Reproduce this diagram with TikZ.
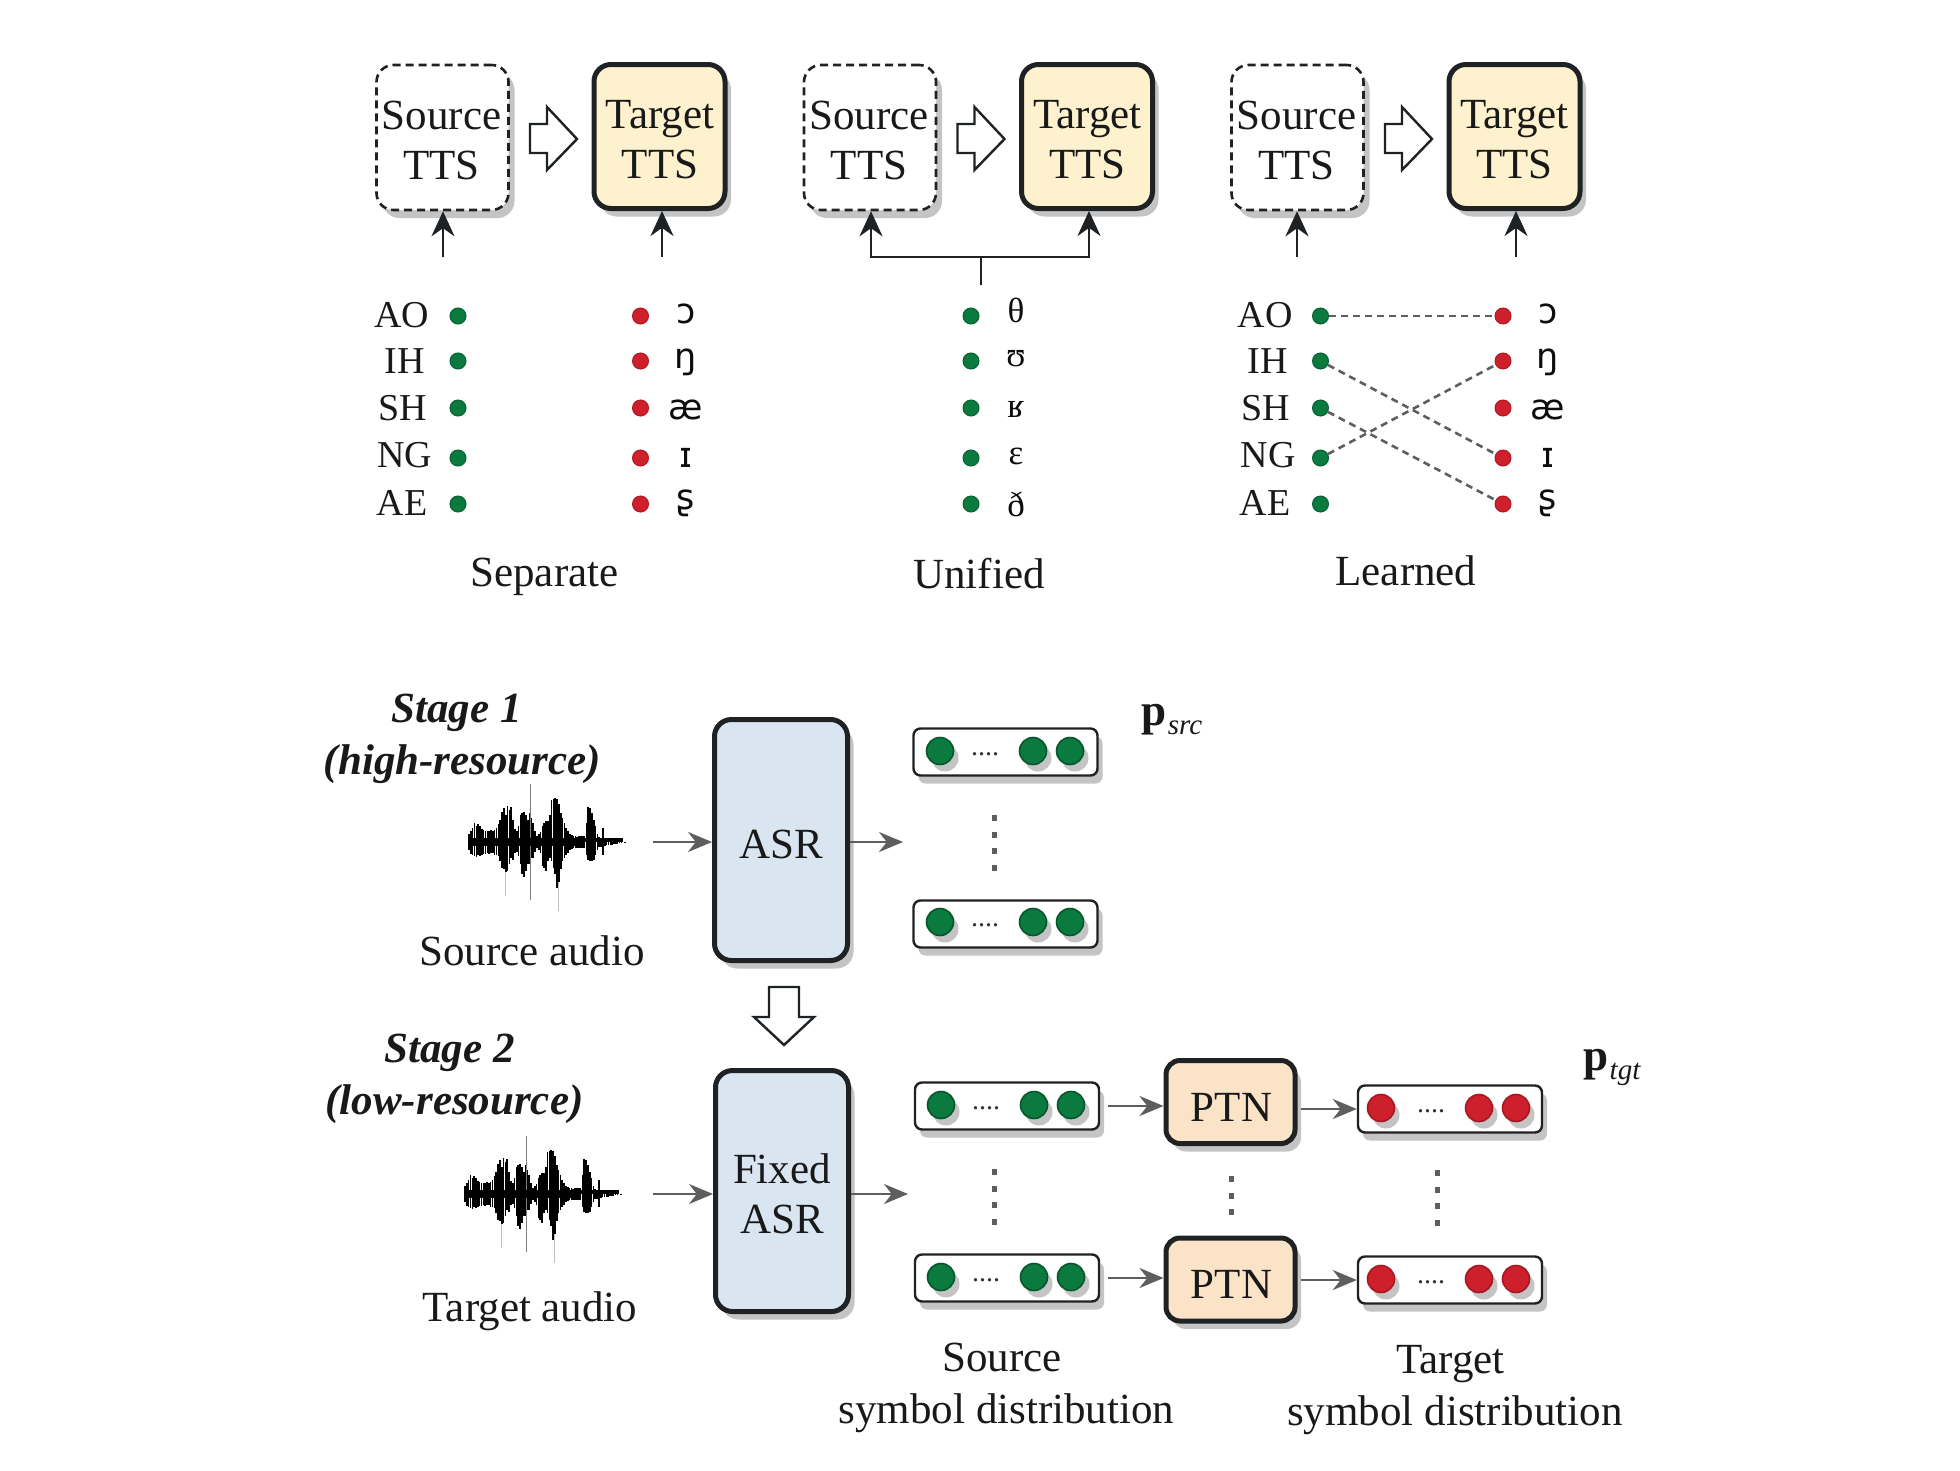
\documentclass[tikz,border=0pt]{standalone}
\usepackage{fontspec}
\setmainfont{Liberation Serif}
\newfontfamily\ipafont{DejaVu Sans}
\usetikzlibrary{arrows.meta,shadows,calc}
\definecolor{shgray}{HTML}{C4C4C4}
\definecolor{dgreen}{HTML}{0A7A3E}
\definecolor{dred}{HTML}{CE1F2C}
\definecolor{yfill}{HTML}{FDF2CD}
\definecolor{bfill}{HTML}{D9E5F0}
\definecolor{ofill}{HTML}{FBE3C8}
\definecolor{arrgray}{HTML}{5E5E5E}
\definecolor{boxline}{HTML}{1E2224}
\newcommand{\fs}[1]{\fontsize{#1}{50}\selectfont}
\tikzset{
  x=1pt,y=-1pt,
  txt/.style={font=\fs{43},align=center,inner sep=0pt,text=black!90},
  bigshadow/.style={drop shadow={shadow xshift=6pt,shadow yshift=-8pt,fill=shgray,opacity=1}},
  srcbox/.style={txt,rounded corners=17pt,draw=boxline,line width=2.6pt,dash pattern=on 8pt off 5pt,fill=white,minimum width=132pt,minimum height=145pt,bigshadow},
  tgtbox/.style={txt,rounded corners=17pt,draw=boxline,line width=5pt,fill=yfill,minimum width=131pt,minimum height=144pt,bigshadow},
  asrbox/.style={txt,rounded corners=17pt,draw=boxline,line width=5pt,fill=bfill,minimum width=133pt,minimum height=241pt,bigshadow},
  ptnbox/.style={txt,rounded corners=14pt,draw=boxline,line width=5pt,fill=ofill,minimum width=129pt,minimum height=83pt,bigshadow},
  barbox/.style={rounded corners=7pt,draw=boxline,line width=2.4pt,fill=white,minimum width=184pt,minimum height=47pt,inner sep=0pt,drop shadow={shadow xshift=5pt,shadow yshift=-8pt,fill=shgray,opacity=1}},
  gdot/.style={circle,inner sep=0pt,minimum size=16pt,fill=dgreen,draw=dgreen!80!black,line width=1pt},
  rdot/.style={circle,inner sep=0pt,minimum size=16pt,fill=dred,draw=dred!85!black,line width=1pt},
  gbig/.style={circle,inner sep=0pt,minimum size=27pt,fill=dgreen,draw=dgreen!70!black,line width=1.6pt,drop shadow={shadow xshift=5pt,shadow yshift=-7pt,fill=shgray,opacity=1}},
  rbig/.style={circle,inner sep=0pt,minimum size=27pt,fill=dred,draw=dred!80!black,line width=1.6pt,drop shadow={shadow xshift=5pt,shadow yshift=-7pt,fill=shgray,opacity=1}},
  plabel/.style={font=\fs{38},inner sep=0pt,text=black!90},
  ipa/.style={font=\ipafont\fs{35},inner sep=0pt,text=black!95},
  ipas/.style={font=\fs{35},inner sep=0pt,text=black!95},
  dotstxt/.style={font=\fs{28},inner sep=0pt,text=black!80},
  uparrow/.style={draw=boxline,line width=2.6pt,-{Stealth[length=25pt,width=23pt]}},
  plainline/.style={draw=boxline,line width=2.6pt},
  garrow/.style={draw=arrgray,line width=2.7pt,-{Stealth[length=24pt,width=20pt]}},
  mapline/.style={draw=arrgray,line width=2.6pt,dash pattern=on 7pt off 5pt},
  vdots/.style={draw=arrgray,line width=5pt,dash pattern=on 6pt off 10.7pt},
  blockarr/.style={draw=boxline,line width=2.4pt,fill=white,line join=miter},
}
\newcommand{\wave}[2]{%
\begin{scope}[shift={(#1,#2)},xscale=.367,yscale=.32]
\draw[black!25,line width=1pt] (245,0) -- (245,215);
\draw[black!25,line width=1pt] (100,0) -- (100,170);
\draw[black!50,line width=1.2pt] (167,-180) -- (167,180);
\foreach \i/\u/\d in {0/25/25,5/35/38,10/45/40,15/60/45,20/50/48,25/55/42,30/50/45,35/42/42,40/38/38,45/35/38,50/33/35,55/35/38,60/38/35,65/33/35,70/38/40,75/45/40,80/55/45,85/70/60,90/95/80,95/105/85,100/85/95,105/112/90,110/100/70,115/110/50,120/70/55,125/40/35,130/35/30,135/50/45,140/85/70,145/90/100,150/95/110,155/85/90,160/70/70,165/90/70,170/75/50,175/60/50,180/35/30,185/20/20,190/25/25,195/30/35,200/50/75,205/60/80,210/65/90,215/65/60,220/85/50,225/130/60,230/135/80,235/138/100,240/135/145,245/120/125,250/90/85,255/75/60,260/60/50,265/45/40,270/35/35,275/25/25,280/22/22,285/20/20,290/18/18,295/15/18,300/18/18,305/20/18,310/20/20,315/18/20,320/60/40,325/110/55,330/105/60,335/90/60,340/70/55,345/50/40,350/25/25,355/15/15,360/12/15,365/45/40,370/12/12,375/10/10,380/10/10,385/10/10,390/8/8,395/7/7,400/6/6,405/5/5,410/4/4,415/3/3,425/1.5/1.5}
  \draw[black,line width=1.6pt] (\i,-\u) -- (\i,\d);
\fill[black] (0,-14) rectangle (420,0);
\fill[black] (0,0) rectangle (300,14);
\end{scope}}
\newcommand{\rowdots}[3]{% name, x, style
\foreach \n/\yy in {1/316,2/361,3/408,4/458,5/504}
  \node[#3] (#1\n) at (#2,\yy) {};}
\begin{document}
\begin{tikzpicture}
\useasboundingbox (0,0) rectangle (1960,1470);
\fill[white] (0,0) rectangle (1960,1470);
% top boxes
\node[srcbox] (s1) at (442.5,137.5) {};
\node[txt] (s1t) at (441.5,140) {Source\\TTS};
\node[tgtbox] (t1) at (659.5,136.5) {};
\node[txt] (t1t) at (660,140) {Target\\TTS};
\node[srcbox] (s2) at (870,137.5) {};
\node[txt] (s2t) at (869,140) {Source\\TTS};
\node[tgtbox] (t2) at (1087,136.5) {};
\node[txt] (t2t) at (1087.5,140) {Target\\TTS};
\node[srcbox] (s3) at (1297.5,137.5) {};
\node[txt] (s3t) at (1296.5,140) {Source\\TTS};
\node[tgtbox] (t3) at (1514.5,136.5) {};
\node[txt] (t3t) at (1514.5,140) {Target\\TTS};
% block arrows
\foreach \dx in {0,427.5,855}
  \draw[blockarr,shift={(\dx,0)}] (530,124) -- (547,124) -- (547,107) -- (577,139) -- (547,170) -- (547,153) -- (530,153) -- cycle;
\draw[blockarr] (769,987) -- (799,987) -- (799,1017) -- (814,1017) -- (784,1045) -- (754,1017) -- (769,1017) -- cycle;
% upward connectors
\coordinate (a1) at (443,257);
\coordinate (a2) at (662,257);
\coordinate (a3) at (1297,257);
\coordinate (a4) at (1516,257);
\draw[uparrow] (a1) -- (a1 |- s1.south);
\draw[uparrow] (a2) -- (a2 |- t1.south);
\draw[uparrow] (a3) -- (a3 |- s3.south);
\draw[uparrow] (a4) -- (a4 |- t3.south);
\coordinate (uj) at (981,257);
\coordinate (us) at (981,285);
\coordinate (ul) at (871,257);
\coordinate (ur) at (1089,257);
\draw[plainline] (us) -- (uj);
\draw[uparrow] (uj) -- (ul) -- (ul |- s2.south);
\draw[uparrow] (uj) -- (ur) -- (ur |- t2.south);
% phoneme columns
\rowdots{ag}{458}{gdot}
\rowdots{ar}{640.5}{rdot}
\rowdots{ug}{971}{gdot}
\rowdots{lg}{1320.5}{gdot}
\rowdots{lr}{1503}{rdot}
\foreach \ox/\pre in {0/a,863/l}{
  \node[plabel] (\pre l1) at (402+\ox,315) {AO};
  \node[plabel] (\pre l2) at (405+\ox,361) {IH};
  \node[plabel] (\pre l3) at (403+\ox,408) {SH};
  \node[plabel] (\pre l4) at (405+\ox,455) {NG};
  \node[plabel] (\pre l5) at (402+\ox,503) {AE};
}
\foreach \ox/\pre in {0/a,862/l}{
  \node[ipa] (\pre s1) at (686+\ox,314) {ɔ};
  \node[ipa] (\pre s2) at (686+\ox,362) {ŋ};
  \node[ipa] (\pre s3) at (686+\ox,410) {æ};
  \node[ipa] (\pre s4) at (686+\ox,458) {ɪ};
  \node[ipa] (\pre s5) at (686+\ox,503) {ʂ};
}
\node[ipas] (us1) at (1016,310) {θ};
\node[ipas] (us2) at (1016,359) {ʊ};
\node[ipas] (us3) at (1016,409) {ʁ};
\node[ipas] (us4) at (1016,456) {ɛ};
\node[ipas] (us5) at (1016,504) {ð};
\draw[mapline] (lg1) -- (lr1);
\draw[mapline] (lg2) -- (lr4);
\draw[mapline] (lg3) -- (lr5);
\draw[mapline] (lg4) -- (lr2);
\node[txt] (sep) at (544.5,577) {Separate};
\node[txt] (uni) at (979,574) {Unified};
\node[txt] (lea) at (1406,571) {Learned};
% stage labels
\node[txt,font=\fs{43}\bfseries\itshape] (st1) at (456.5,713) {Stage 1};
\node[txt,font=\fs{43}\bfseries\itshape] (st1b) at (462.5,764) {(high-resource)};
\node[txt,font=\fs{43}\bfseries\itshape] (st2) at (449.5,1053) {Stage 2};
\node[txt,font=\fs{43}\bfseries\itshape] (st2b) at (454.5,1104) {(low-resource)};
\node[txt] (sa) at (532,951) {Source audio};
\node[txt] (ta) at (530,1311) {Target audio};
% waves
\wave{469}{842}
\wave{465}{1194}
% main boxes
\node[asrbox] (asr) at (781,840) {};
\node[txt] (asrt) at (781,844) {ASR};
\node[asrbox] (fasr) at (782,1191) {};
\node[txt] (fasrt) at (782,1194) {Fixed\\ASR};
\node[ptnbox] (p1) at (1230.5,1102) {};
\node[txt] (p1t) at (1231.5,1107) {PTN};
\node[ptnbox] (p2) at (1230.5,1279.5) {};
\node[txt] (p2t) at (1231.5,1284) {PTN};
% bars
\node[barbox] (b1) at (1005.5,752) {};
\node[barbox] (b2) at (1005.5,924) {};
\node[barbox] (b3) at (1007,1106) {};
\node[barbox] (b4) at (1007,1278) {};
\node[barbox] (b5) at (1450,1109) {};
\node[barbox] (b6) at (1450,1280) {};
\foreach \n/\yy in {1/751,2/922}{
  \node[gbig] (g\n a) at (940,\yy) {};
  \node[gbig] (g\n b) at (1033,\yy) {};
  \node[gbig] (g\n c) at (1070,\yy) {};
  \node[dotstxt] (g\n d) at (985,\yy+3) {....};
}
\foreach \n/\yy in {3/1105,4/1277}{
  \node[gbig] (g\n a) at (941,\yy) {};
  \node[gbig] (g\n b) at (1034,\yy) {};
  \node[gbig] (g\n c) at (1071,\yy) {};
  \node[dotstxt] (g\n d) at (986,\yy+3) {....};
}
\foreach \n/\yy in {5/1108,6/1279}{
  \node[rbig] (r\n a) at (1381,\yy) {};
  \node[rbig] (r\n b) at (1479,\yy) {};
  \node[rbig] (r\n c) at (1516,\yy) {};
  \node[dotstxt] (r\n d) at (1431,\yy+3) {....};
}
% vertical dots
\draw[vdots] (994,815) -- (994,871);
\draw[vdots] (994,1169) -- (994,1225);
\draw[vdots] (1231,1176) -- (1231,1215);
\draw[vdots] (1437,1170) -- (1437,1226);
% grey connectors
\coordinate (w1) at (653,842);
\coordinate (w2) at (653,1194);
\coordinate (o1) at (903,842);
\coordinate (o2) at (908,1194);
\draw[garrow] (w1) -- (w1 -| asr.west);
\draw[garrow] (w2) -- (w2 -| fasr.west);
\draw[garrow] (o1 -| asr.east) -- (o1);
\draw[garrow] (o2 -| fasr.east) -- (o2);
\draw[garrow,shorten <=8pt] (b3.east) -- (b3.east -| p1.west);
\draw[garrow,shorten <=8pt] (b4.east) -- (b4.east -| p2.west);
\draw[garrow,shorten <=3pt] (p1.east |- b5.west) -- (b5.west);
\draw[garrow,shorten <=3pt] (p2.east |- b6.west) -- (b6.west);
% captions
\node[txt] (c1a) at (1002,1357) {Source};
\node[txt] (c1b) at (1006.5,1413) {symbol distribution};
\node[txt] (c2a) at (1450.5,1364) {Target};
\node[txt] (c2b) at (1455,1415) {symbol distribution};
\node[inner sep=0pt,text=black!90] (psrc) at (1172,720) {\fs{45}\bfseries p\kern1pt\raisebox{-9pt}{\fs{29}\mdseries\itshape src}};
\node[inner sep=0pt,text=black!90] (ptgt) at (1612,1067) {\fs{45}\bfseries p\kern1pt\raisebox{-9pt}{\fs{29}\mdseries\itshape tgt}};
\end{tikzpicture}
\end{document}
